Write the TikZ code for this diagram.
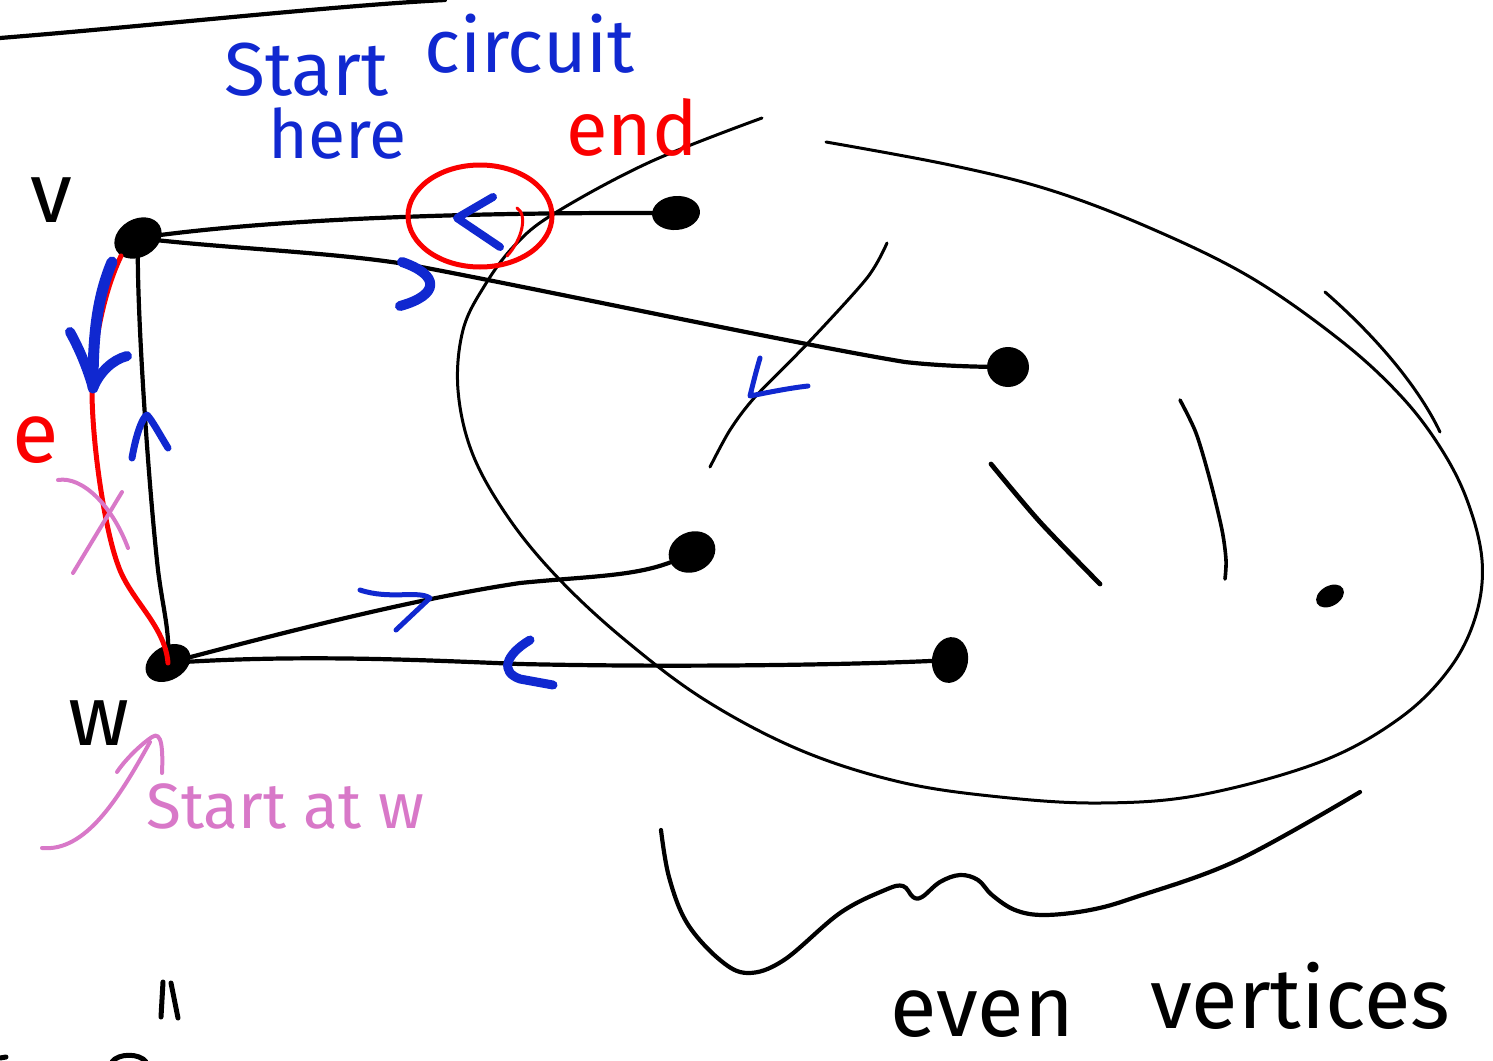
\documentclass[tikz,border=0pt]{standalone}
\usepackage{fontspec}
\setmainfont{Fira Sans}
\usetikzlibrary{shapes.geometric}
\definecolor{inkblue}{RGB}{16,40,208}
\definecolor{inkpink}{RGB}{216,120,200}
\definecolor{inkred}{RGB}{250,0,0}
\begin{document}
\begin{tikzpicture}[x=1pt,y=-1pt,line cap=round,line join=round,
  blob/.style={ellipse,fill=black,inner sep=0pt},
  edgeline/.style={draw=black,line width=4.2pt},
  thinline/.style={draw=black,line width=3pt},
  bluestroke/.style={draw=inkblue,line width=8pt},
  pinkstroke/.style={draw=inkpink,line width=4pt},
  redstroke/.style={draw=inkred,line width=5pt},
  txt/.style={inner sep=0pt,anchor=base west},
  ]
\useasboundingbox (0,0) rectangle (1493,1060);

% ruled line at the top
\draw[edgeline] (0,38) .. controls (150,26) and (330,6) .. (445,0);

% vertices
\node[blob,minimum width=50pt,minimum height=38pt,rotate=30] (v) at (138,238) {};
\node[blob,minimum width=48pt,minimum height=34pt,rotate=30] (w) at (168,663) {};
\node[blob,minimum width=48pt,minimum height=34pt,rotate=5] (a) at (676,213) {};
\node[blob,minimum width=42pt,minimum height=40pt] (b) at (1008,367) {};
\node[blob,minimum width=48pt,minimum height=40pt,rotate=25] (c) at (692,552) {};
\node[blob,minimum width=46pt,minimum height=36pt,rotate=80] (d) at (950,660) {};
\node[blob,minimum width=30pt,minimum height=20pt,rotate=30] (f) at (1330,596) {};

% edges of the graph
\draw[edgeline] (v.center) .. controls (250,222) and (420,212) .. (a.center);
\draw[edgeline] (v.center) .. controls (220,248) and (330,252) .. (405,264)
  .. controls (520,285) and (800,345) .. (905,362)
  .. controls (940,366) and (980,367) .. (b.center);
\draw[edgeline] (v.center) .. controls (136,300) and (148,480) .. (158,570)
  .. controls (163,610) and (170,630) .. (w.center);
\draw[edgeline] (w.center) .. controls (300,628) and (420,598) .. (520,583)
  .. controls (600,575) and (650,577) .. (c.center);
\draw[edgeline] (w.center) .. controls (300,654) and (420,660) .. (520,664)
  .. controls (700,668) and (880,664) .. (d.center);

% the edge e, drawn in red
\coordinate (vfoot) at (121,256);
\draw[redstroke] (vfoot) .. controls (100,300) and (92,360) .. (92,395)
  .. controls (93,450) and (105,530) .. (118,565)
  .. controls (130,600) and (165,625) .. (w.center);

% region of even vertices
\draw[thinline] plot[smooth,tension=0.6] coordinates {
  (762,118) (650,162) (555,213) (515,245) (485,285) (463,330) (458,390)
  (473,455) (510,520) (560,580) (625,640) (705,700) (800,750) (900,782)
  (1000,797) (1100,803) (1200,795) (1320,762) (1400,718) (1450,668)
  (1476,615) (1482,560) (1467,500) (1440,447) (1400,395) (1340,340)
  (1250,277) (1150,228) (1050,190) (950,165) (826,142)};
\draw[thinline] (1325,292) .. controls (1380,340) and (1420,390) .. (1440,432);

% strokes inside the region
\draw[thinline] plot[smooth] coordinates {(887,243) (867,278) (808,343) (755,397) (730,430) (710,467)};
\draw[edgeline,line width=4.8pt] plot[smooth] coordinates {(991,464) (1040,522) (1100,584)};
\draw[thinline,line width=3.6pt] plot[smooth] coordinates {(1180,400) (1196,433) (1210,480) (1222,530) (1226,560) (1225,579)};

% brace under the region
\draw[edgeline] plot[smooth,tension=0.6] coordinates {
  (661,830) (669,877) (687,923) (720,960) (748,973) (784,960) (840,913)
  (885,890) (903,886) (913,897) (922,897) (940,882) (960,875) (978,880)
  (992,895) (1015,910) (1044,915) (1090,910) (1136,897) (1238,860) (1360,792)};

% direction marks along the circuit
\draw[bluestroke] (493,197) -- (457,218) -- (500,247);
\draw[bluestroke,line width=10pt] (402,262) .. controls (440,275) and (440,295) .. (400,306);
\draw[bluestroke,line width=11pt] (112,262) .. controls (96,300) and (93,340) .. (93,388);
\draw[bluestroke,line width=10pt] (70,332) .. controls (80,350) and (88,370) .. (93,388)
  .. controls (100,372) and (112,360) .. (127,356);
\draw[bluestroke,line width=7pt] (132,458) .. controls (136,435) and (142,418) .. (147,415)
  .. controls (152,420) and (160,435) .. (168,448);
\draw[bluestroke,line width=5pt] (760,358) .. controls (755,375) and (752,388) .. (750,396)
  .. controls (770,392) and (790,388) .. (808,386);
\draw[bluestroke,line width=5pt] (360,590) .. controls (390,600) and (418,590) .. (430,598) -- (396,630);
\draw[bluestroke,line width=9pt] (530,640) .. controls (505,655) and (500,672) .. (520,679) -- (553,685);

% the end of the circuit, circled
\draw[redstroke] (480,216) ellipse [x radius=72,y radius=51];
\draw[redstroke,line width=3pt] (517,208) .. controls (528,215) and (522,240) .. (507,256);

% starting point marks
\draw[pinkstroke] (58,480) .. controls (82,476) and (112,505) .. (128,548);
\draw[pinkstroke] (122,492) -- (73,573);
\draw[pinkstroke] (42,848) .. controls (85,852) and (118,800) .. (150,742);
\draw[pinkstroke] (117,772) .. controls (125,760) and (140,745) .. (152,737)
  .. controls (162,730) and (163,750) .. (162,773);

% small marks at the bottom
\draw[edgeline,line width=5pt] (163,982) -- (161,1017);
\draw[edgeline,line width=5pt] (171,983) .. controls (174,998) and (176,1008) .. (178,1018);
\draw[edgeline,line width=5pt] (112,1062) .. controls (118,1053) and (140,1053) .. (146,1062);
\draw[edgeline,line width=5pt] (0,1058) -- (6,1057);

% labels
\node[txt,text=inkblue,font=\fontsize{75}{75}\selectfont] (tstart) at (224,95) {Start};
\node[txt,text=inkblue,font=\fontsize{75}{75}\selectfont] (tcirc) at (424,72) {circuit};
\node[txt,text=inkblue,font=\fontsize{68}{68}\selectfont] (there) at (268,158) {here};
\node[txt,text=inkred,font=\fontsize{76}{76}\selectfont] (tend) at (566,155) {end};
\node[txt,font=\fontsize{85}{85}\selectfont] (tv) at (30,222) {v};
\node[txt,font=\fontsize{85}{85}\selectfont] (tw) at (68,745) {w};
\node[txt,text=inkred,font=\fontsize{85}{85}\selectfont] (te) at (12,462) {e};
\node[txt,text=inkpink,font=\fontsize{64}{64}\selectfont] (tsw) at (146,828) {Start at w};
\node[txt,font=\fontsize{85}{85}\selectfont] (teven) at (890,1036) {even};
\node[txt,font=\fontsize{85}{85}\selectfont] (tvert) at (1150,1028) {vertices};
\end{tikzpicture}
\end{document}
